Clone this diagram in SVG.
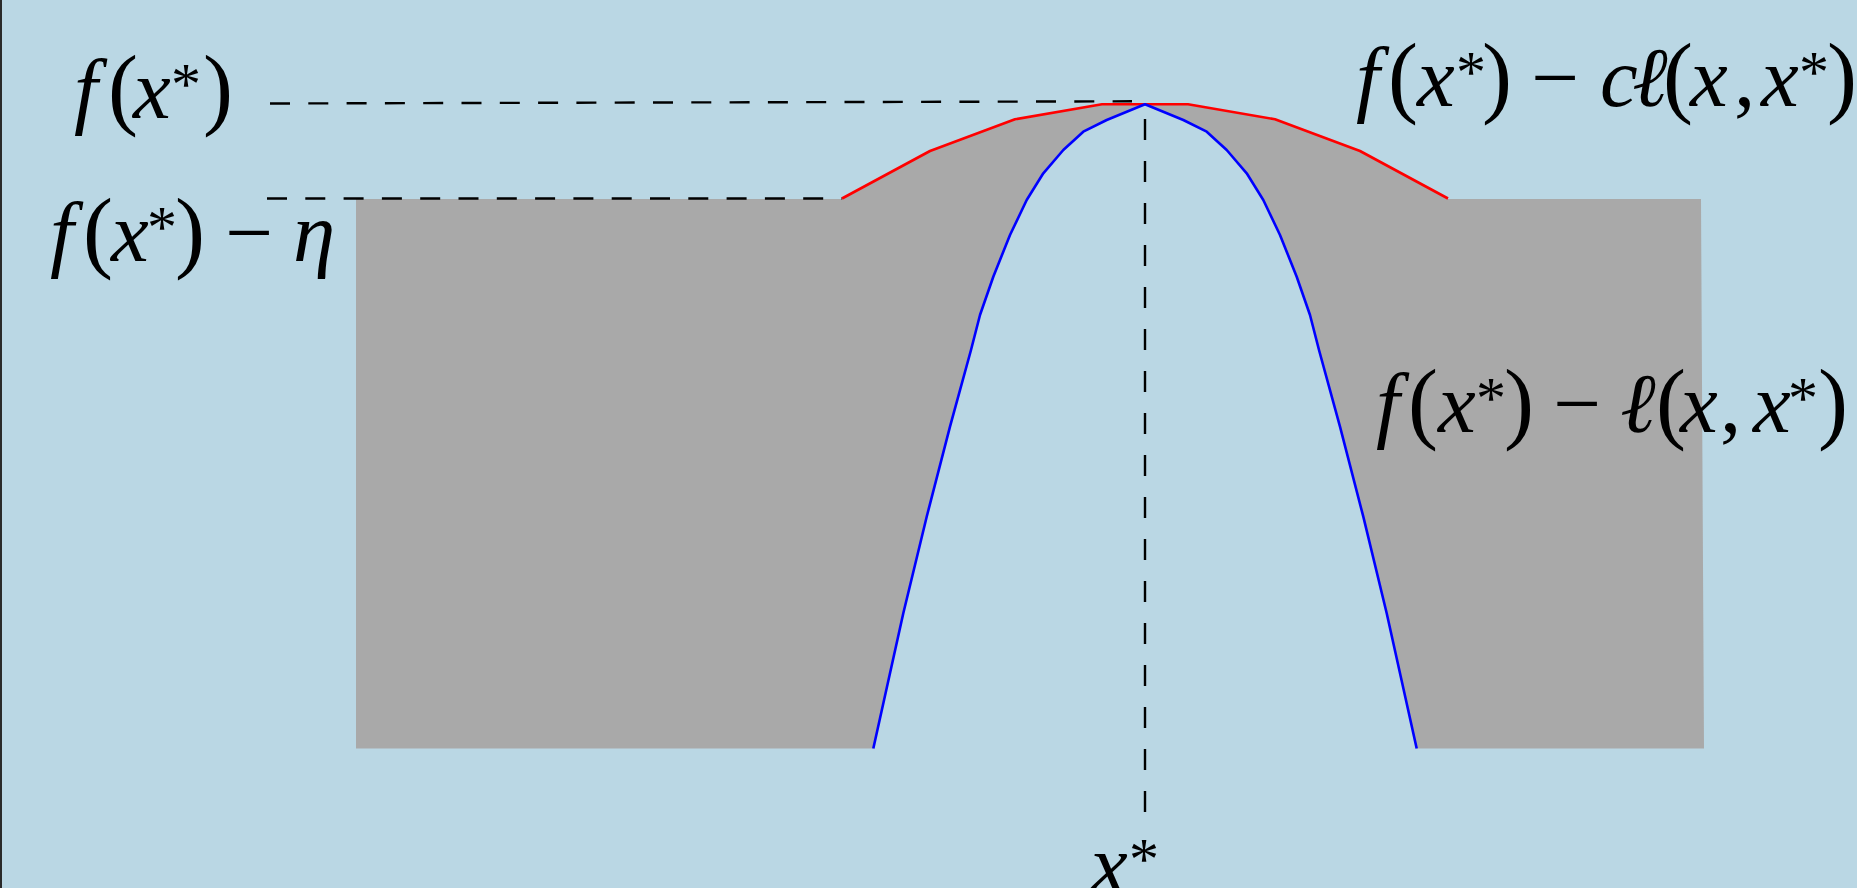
<svg xmlns="http://www.w3.org/2000/svg" width="1857" height="888" viewBox="0 0 1857 888">
<style>
text{font-family:'Liberation Serif','Times New Roman',serif;fill:#000;font-size:85px}
.it{font-style:italic}
.p{font-size:90px}
.s{font-size:60px}
.dash{fill:none;stroke:#000;stroke-width:2.4}
</style>
<rect x="0" y="0" width="1857" height="888" fill="#BAD7E4"/>
<line x1="1" y1="0" x2="1" y2="888" stroke="#2a2a2a" stroke-width="2"/>
<g id="region">
<path fill="#A9A9A9" d="M356,199 L842,199 L930,151 L1015,119.5 L1102,105 L1188,105 L1275,119.5 L1360,151 L1448,199 L1701,199 L1704,748.5 L1416.7,748.5 L1386.7,613.3 L1363.3,516.7 L1340,426.7 L1319,350 L1310,315 L1296.7,276.7 L1280,235 L1263.3,200 L1246.7,173.3 L1226.7,150 L1206.7,131.7 L1183.3,120 L1145,104.3 L1106.7,120 L1083.3,131.7 L1063.3,150 L1043.3,173.3 L1026.7,200 L1010,235 L993.3,276.7 L980,315 L971,350 L950,426.7 L926.7,516.7 L903.3,613.3 L873.3,748.5 L356,748.5 Z"/>
</g>
<g id="connectors">
<path class="dash" d="M270,103.5 L1132,101.3" stroke-dasharray="20 18.3"/>
<path class="dash" d="M267,198.5 L842,198.5" stroke-dasharray="20 18.3"/>
<path class="dash" d="M1145,812 L1145,104" stroke-dasharray="21 21"/>
</g>
<g id="upper-bound">
<polyline fill="none" stroke="#FF0000" stroke-width="2.6" stroke-linejoin="round" points="842,198.5 930,151 1015,119.3 1102,104.3 1188,104.3 1275,119.3 1360,151 1448,198.5"/>
</g>
<g id="lower-bound">
<polyline fill="none" stroke="#0000FF" stroke-width="2.6" stroke-linejoin="round" points="873.3,748.5 903.3,613.3 926.7,516.7 950,426.7 971,350 980,315 993.3,276.7 1010,235 1026.7,200 1043.3,173.3 1063.3,150 1083.3,131.7 1106.7,120 1145,104.3 1183.3,120 1206.7,131.7 1226.7,150 1246.7,173.3 1263.3,200 1280,235 1296.7,276.7 1310,315 1319,350 1340,426.7 1363.3,516.7 1386.7,613.3 1416.7,748.5"/>
</g>
<g id="label-fx">
<text><tspan class="it" x="74" y="118">f</tspan><tspan class="p" x="108" y="118">(</tspan><tspan class="it" x="133" y="118">x</tspan><tspan class="s" x="171" y="104">*</tspan><tspan class="p" x="203" y="118">)</tspan></text>
</g>
<g id="label-fx-eta">
<text><tspan class="it" x="50" y="261">f</tspan><tspan class="p" x="83" y="261">(</tspan><tspan class="it" x="111" y="261">x</tspan><tspan class="s" x="147" y="247">*</tspan><tspan class="p" x="175" y="261">)</tspan><tspan x="225" y="261">−</tspan><tspan class="it" x="293" y="261">η</tspan></text>
</g>
<g id="label-fx-cl">
<text><tspan class="it" x="1356" y="106">f</tspan><tspan class="p" x="1388" y="106">(</tspan><tspan class="it" x="1417" y="106">x</tspan><tspan class="s" x="1456" y="92">*</tspan><tspan class="p" x="1482" y="106">)</tspan><tspan x="1531" y="106">−</tspan><tspan class="it" x="1600" y="106">c</tspan><tspan class="it" x="1632" y="106">ℓ</tspan><tspan class="p" x="1663" y="106">(</tspan><tspan class="it" x="1690" y="106">x</tspan><tspan x="1734" y="106">,</tspan><tspan class="it" x="1761" y="106">x</tspan><tspan class="s" x="1799" y="92">*</tspan><tspan class="p" x="1827" y="106">)</tspan></text>
</g>
<g id="label-fx-l">
<text><tspan class="it" x="1376" y="432">f</tspan><tspan class="p" x="1408" y="432">(</tspan><tspan class="it" x="1438" y="432">x</tspan><tspan class="s" x="1476" y="418">*</tspan><tspan class="p" x="1504" y="432">)</tspan><tspan x="1553" y="432">−</tspan><tspan class="it" x="1620" y="432">ℓ</tspan><tspan class="p" x="1656" y="432">(</tspan><tspan class="it" x="1680" y="432">x</tspan><tspan x="1720" y="432">,</tspan><tspan class="it" x="1753" y="432">x</tspan><tspan class="s" x="1788" y="418">*</tspan><tspan class="p" x="1818" y="432">)</tspan></text>
</g>
<g id="label-xstar">
<text><tspan class="it" x="1090" y="893">x</tspan><tspan class="s" x="1129" y="879">*</tspan></text>
</g>
</svg>
